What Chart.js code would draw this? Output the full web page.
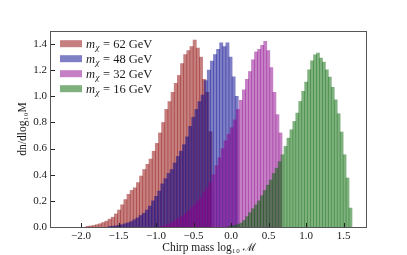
<!DOCTYPE html>
<html><head><meta charset="utf-8">
<script src="https://cdn.jsdelivr.net/npm/chart.js@4"></script>
<style>html,body{margin:0;padding:0;background:#fff;overflow:hidden}</style>
</head><body>
<canvas id="c" width="407" height="255"></canvas>
<script>
// ---- data ----
const seriesLabels = ['mχ = 62 GeV', 'mχ = 48 GeV', 'mχ = 32 GeV', 'mχ = 16 GeV'];
const massNumbers = ['62', '48', '32', '16'];
const binLeft  = [-1.933, -1.639, -0.947, -0.042];
const binWidth = [0.042, 0.04133, 0.04067, 0.0394];
const red = [0.005,0.008,0.012,0.018,0.025,0.035,0.045,0.06,0.075,0.10,0.13,0.17,0.21,0.25,0.28,0.30,0.34,0.39,0.44,0.48,0.52,0.58,0.64,0.72,0.80,0.90,0.96,1.03,1.10,1.16,1.25,1.32,1.35,1.38,1.43,1.37,1.30,1.13,1.03,0.73];
const blue = [0.004,0.006,0.009,0.013,0.018,0.025,0.032,0.042,0.056,0.07,0.088,0.105,0.13,0.16,0.2,0.235,0.275,0.33,0.37,0.41,0.44,0.49,0.54,0.58,0.63,0.69,0.77,0.84,0.9,0.96,1.01,1.12,1.2,1.27,1.32,1.36,1.41,1.38,1.41,1.3,1.15,1.0];
const magenta = [0.004,0.01,0.018,0.028,0.04,0.055,0.07,0.085,0.105,0.125,0.15,0.175,0.2,0.23,0.27,0.3,0.34,0.4,0.47,0.53,0.6,0.66,0.71,0.76,0.82,0.9,0.97,1.05,1.13,1.19,1.28,1.34,1.36,1.39,1.42,1.35,1.22,1.03,0.86,0.72];
const green = [0.004,0.008,0.012,0.02,0.03,0.05,0.08,0.11,0.14,0.17,0.2,0.24,0.28,0.32,0.36,0.41,0.45,0.5,0.553,0.617,0.68,0.744,0.808,0.872,0.961,1.038,1.109,1.203,1.272,1.318,1.331,1.293,1.262,1.203,1.147,1.068,0.974,0.867,0.727,0.553,0.375,0.145];
const xTicks = [-2.0, -1.5, -1.0, -0.5, 0.0, 0.5, 1.0, 1.5];
const yTicks = [0.0, 0.2, 0.4, 0.6, 0.8, 1.0, 1.2, 1.4];

const seriesValues = [red, blue, magenta, green];
const colors = ['rgba(139,0,0,0.5)', 'rgba(0,0,139,0.5)', 'rgba(139,0,139,0.5)', 'rgba(0,100,0,0.5)'];
const SERIF = '"Liberation Serif", "DejaVu Serif", serif';

function fmt(v) {
  const r = Math.round(v * 10) / 10;
  return (r < 0 ? '\u2212' : '') + Math.abs(r).toFixed(1);
}

const frameAndTicks = {
  id: 'frameAndTicks',
  afterDatasetsDraw(chart) {
    const {ctx, chartArea: a, scales: {x, y}} = chart;
    ctx.save();
    ctx.strokeStyle = '#222';
    ctx.lineWidth = 1;
    ctx.beginPath();
    xTicks.forEach(v => { const p = Math.round(x.getPixelForValue(v)) + 0.5; ctx.moveTo(p, a.bottom); ctx.lineTo(p, a.bottom - 4); });
    yTicks.forEach(v => { const p = Math.round(y.getPixelForValue(v)) + 0.5; ctx.moveTo(a.left, p); ctx.lineTo(a.left + 4, p); });
    ctx.stroke();
    ctx.strokeStyle = '#555';
    ctx.strokeRect(a.left - 0.5, a.top + 0.5, a.right - a.left, a.bottom - a.top);
    ctx.restore();
  }
};

const mathLegend = {
  id: 'mathLegend',
  afterDraw(chart) {
    const {ctx, chartArea: a} = chart;
    ctx.save();
    const x0 = a.left + 9, top0 = a.top + 12.7;
    seriesLabels.forEach((lab, i) => {
      const cy = top0 + i * 15;
      ctx.fillStyle = colors[i];
      ctx.fillRect(x0, cy - 3.5, 22, 7);
      let tx = x0 + 26;
      ctx.fillStyle = '#1a1a1a';
      ctx.textBaseline = 'alphabetic';
      ctx.font = 'italic 12.5px ' + SERIF;
      ctx.fillText('m', tx, cy + 4);
      tx += ctx.measureText('m').width + 0.5;
      ctx.font = 'italic 9px ' + SERIF;
      ctx.fillText('\u03c7', tx, cy + 6.5);
      tx += ctx.measureText('\u03c7').width + 3.5;
      ctx.font = '12.5px ' + SERIF;
      ctx.fillText('= ' + massNumbers[i] + ' GeV', tx, cy + 4);
    });
    ctx.restore();
  }
};

function makeConfig(thick) {
  return {
    type: 'bar',
    data: {
      datasets: seriesValues.map((vals, s) => ({
        label: seriesLabels[s],
        data: vals.map((v, i) => ({x: binLeft[s] + (i + 0.5) * binWidth[s], y: v})),
        backgroundColor: colors[s],
        borderWidth: 0,
        grouped: false,
        barThickness: thick[s],
        order: 4 - s
      }))
    },
    options: {
      responsive: false,
      animation: false,
      devicePixelRatio: 1,
      layout: {padding: {left: 0, top: 31, right: 40, bottom: 0}},
      plugins: {legend: {display: false}, tooltip: {enabled: false}},
      scales: {
        x: {
          type: 'linear', min: -2.4, max: 1.8133, offset: false,
          grid: {display: false, drawTicks: false, offset: false},
          border: {display: false},
          afterBuildTicks: s => { s.ticks = xTicks.map(v => ({value: v})); },
          afterFit: s => { s.height = 28; },
          ticks: {padding: 3, color: '#1a1a1a', font: {family: SERIF, size: 11}, callback: v => fmt(v), maxRotation: 0, autoSkip: false},
          title: {display: true, text: 'Chirp mass log\u2081\u2080 \u2133', color: '#1a1a1a', font: {family: SERIF, size: 11.5}, padding: {top: 0, bottom: 0}}
        },
        y: {
          min: 0, max: 1.5,
          grid: {display: false, drawTicks: false},
          border: {display: false},
          afterBuildTicks: s => { s.ticks = yTicks.map(v => ({value: v})); },
          afterFit: s => { s.width = 51; },
          ticks: {padding: 4, color: '#1a1a1a', font: {family: SERIF, size: 11}, callback: v => fmt(v), autoSkip: false},
          title: {display: true, text: 'dn/dlog\u2081\u2080M', color: '#1a1a1a', font: {family: SERIF, size: 11.5}, padding: {top: 16, bottom: 0}}
        }
      }
    },
    plugins: [frameAndTicks, mathLegend]
  };
}

const ctx = document.getElementById('c').getContext('2d');
let chart = new Chart(ctx, makeConfig([3, 3, 3, 3]));
const xs = chart.scales.x;
const thick = binWidth.map(w => xs.getPixelForValue(w) - xs.getPixelForValue(0) + 0.08);
chart.destroy();
chart = new Chart(ctx, makeConfig(thick));
</script>
</body></html>
